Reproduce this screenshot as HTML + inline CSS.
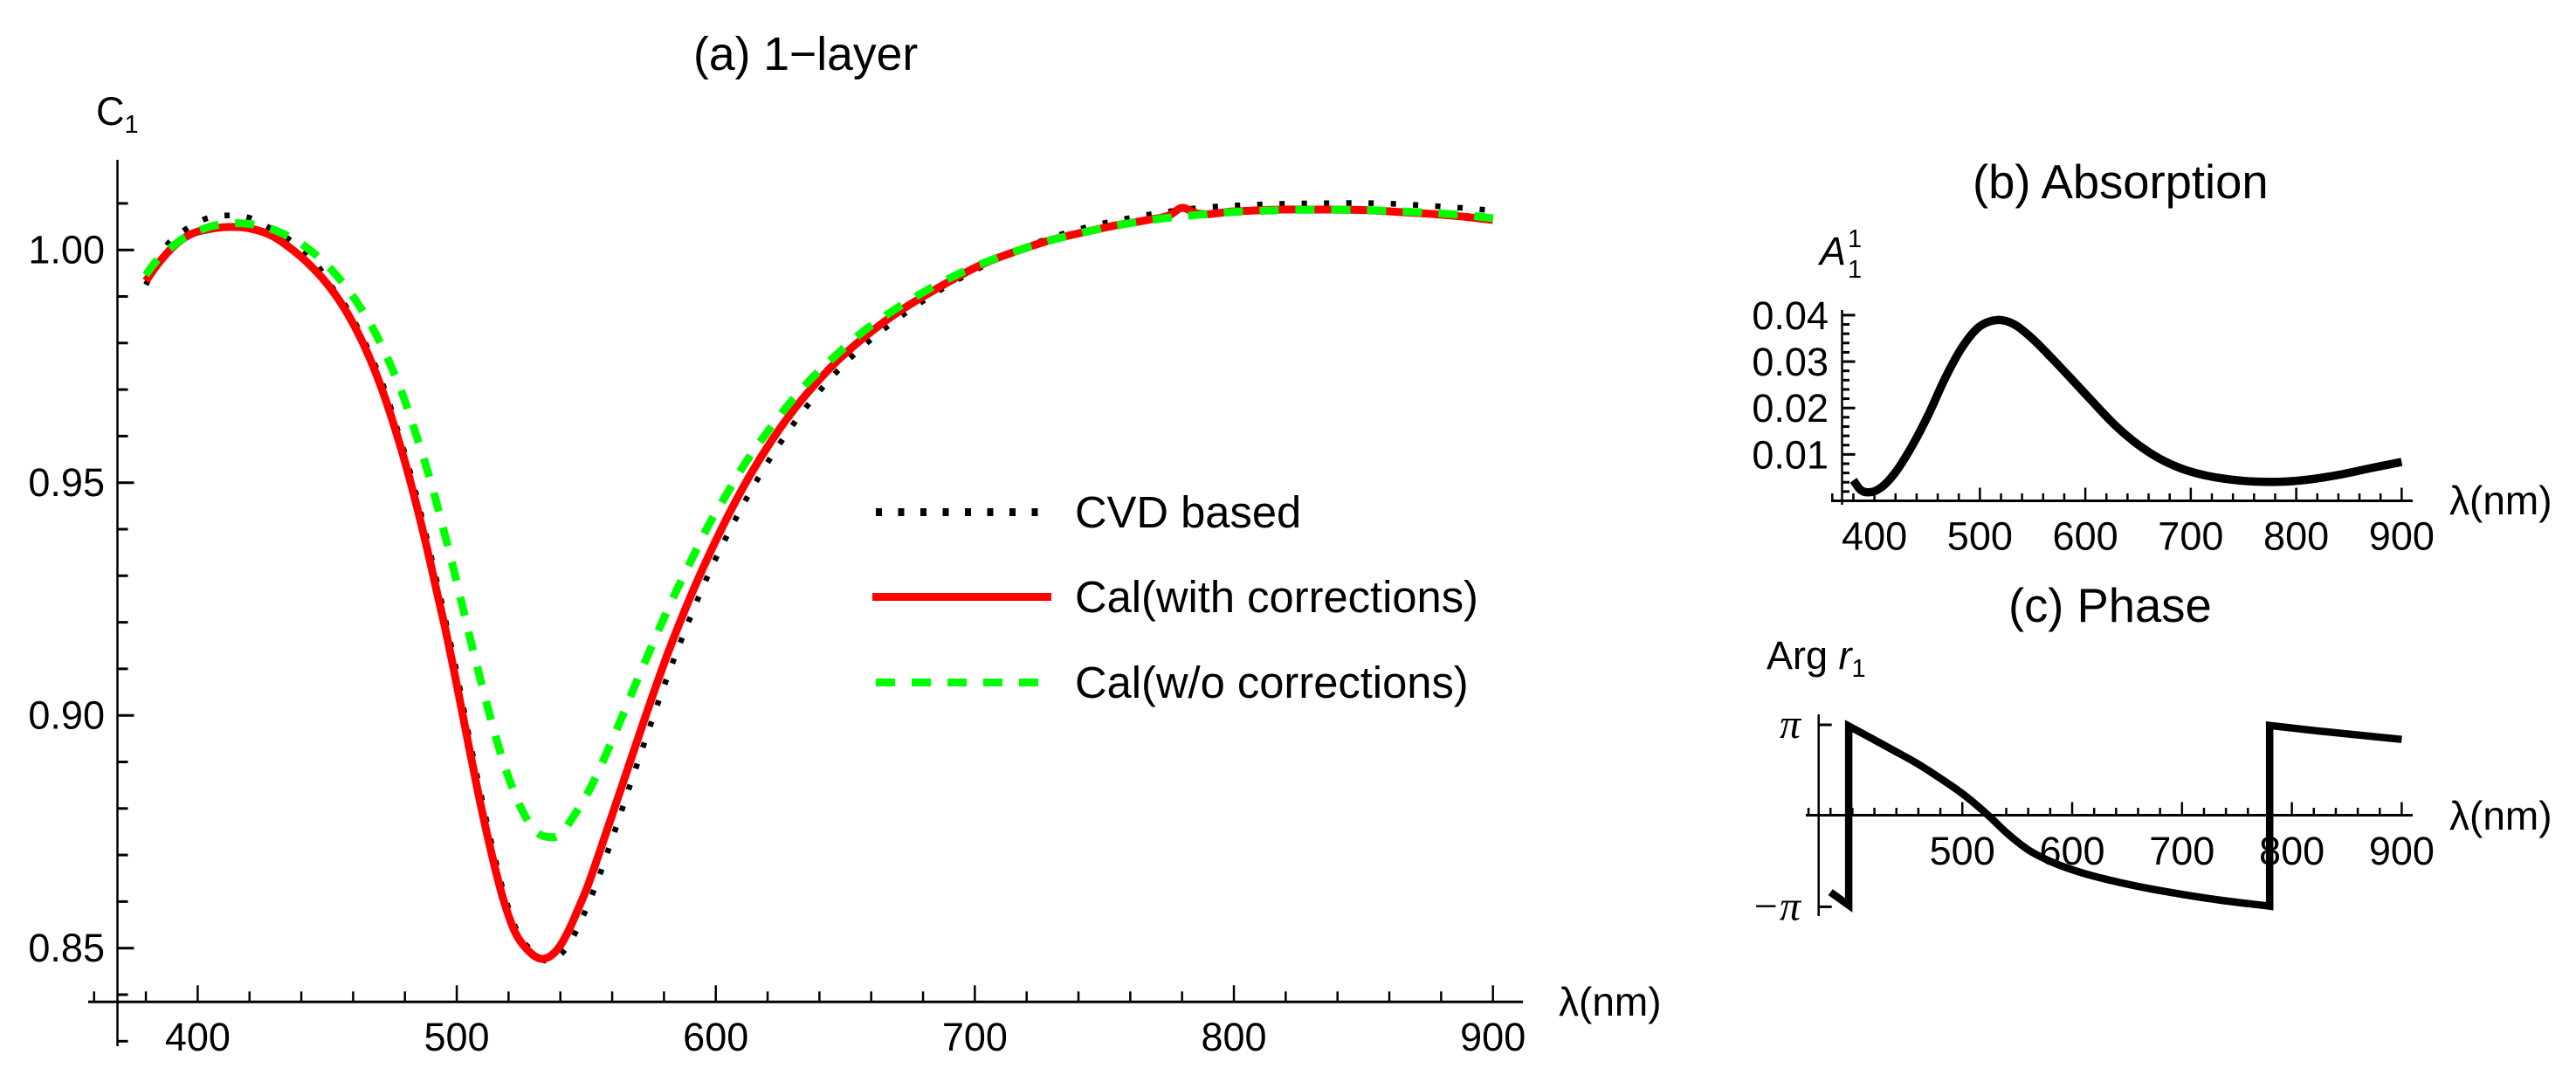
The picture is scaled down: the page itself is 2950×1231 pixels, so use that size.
<!DOCTYPE html>
<html lang="en">
<head>
<meta charset="utf-8">
<title>1-layer spectrum, absorption and phase</title>
<style>
html,body{margin:0;padding:0;background:#fff;}
body{width:2950px;height:1231px;overflow:hidden;position:relative;}
svg{position:absolute;left:0;top:0;display:block;}
text{font-family:"Liberation Sans",Arial,sans-serif;fill:#000;}
.tick{font-size:45px;}
.axt{font-size:46px;}
.title{font-size:54.4px;}
.title-a{font-size:53.5px;}
.leg{font-size:50.7px;}
.sub{font-size:29px;}
.ital{font-style:italic;}
.pi{font-family:"Liberation Serif",serif;font-style:italic;font-size:48px;}
</style>
</head>
<body>
<svg id="fig" xmlns="http://www.w3.org/2000/svg" width="2950" height="1231" viewBox="0 0 2950 1231">
  <rect width="2950" height="1231" fill="#fff"/>
  <g id="panelA">
    <text class="title-a" x="794" y="80">(a) 1−layer</text>
    <text class="tick" x="110" y="143">C<tspan class="sub" dy="9">1</tspan></text>
    <text class="axt" x="1785" y="1163">λ(nm)</text>
    <g>
      <g>
        <line x1="1003" x2="1192" y1="586.5" y2="586.5" stroke="#000" stroke-width="9" stroke-dasharray="7 18.5"/>
        <text class="leg" x="1231" y="604">CVD based</text>
      </g>
      <g>
        <line x1="999" x2="1204" y1="683.5" y2="683.5" stroke="#f00" stroke-width="9"/>
        <text class="leg" x="1231" y="701">Cal(with corrections)</text>
      </g>
      <g>
        <line x1="1003" x2="1189" y1="781.5" y2="781.5" stroke="#0f0" stroke-width="9" stroke-dasharray="22 19"/>
        <text class="leg" x="1231" y="799">Cal(w/o corrections)</text>
      </g>
    </g>
  </g>
  <g id="panelB">
    <text class="title" x="2259" y="227">(b) Absorption</text>
    <text class="tick ital" x="2084" y="303">A</text>
    <text class="sub" x="2116" y="283">1</text>
    <text class="sub" x="2116" y="318">1</text>
    <text class="axt" x="2805" y="589">λ(nm)</text>
  </g>
  <g id="panelC">
    <text class="title" x="2300" y="712">(c) Phase</text>
    <text class="tick" x="2023" y="766">Arg <tspan class="ital">r</tspan><tspan class="sub" dy="9">1</tspan></text>
    <text class="axt" x="2805" y="950">λ(nm)</text>
  </g>
</svg>
<script>
// ---- Panel (a) data ----
const cvdLambda = [380,388.3,395,402.6,411,419.5,427.1,434.9,441.7,447.3,451.4,456.2,461.7,467.3,473,477.2,481.3,485.5,489.5,493.1,496.6,499.5,504.7,509.1,513.5,518.9,523.4,528.3,534,538.1,542,546.4,550,553.2,556.2,559,561.8,567.2,572.7,578.3,584.2,590.5,597.2,604.6,612.6,621.4,631.1,641.9,653.8,666.9,681,695.6,710.8,727.1,743.4,760.4,785.8,803,820.2,837.4,854.6,871.8,889,900];
const cvdValues = [0.99253,1.00116,1.0043,1.0066,1.00741,1.00698,1.00492,1.00242,0.99929,0.99585,0.99235,0.98878,0.98334,0.97677,0.9687,0.9612,0.9537,0.94488,0.9355,0.92687,0.91805,0.91055,0.89555,0.88358,0.87232,0.86045,0.85356,0.84976,0.84732,0.84788,0.84981,0.85401,0.85845,0.86283,0.86733,0.87189,0.87645,0.88554,0.89454,0.90366,0.91261,0.92152,0.93037,0.93893,0.94732,0.95557,0.96345,0.9709,0.97777,0.98385,0.9894,0.99428,0.99854,1.0022,1.00492,1.00692,1.00899,1.00961,1.00992,1.01004,1.01004,1.00961,1.00899,1.00848];
const withLambda = [380,384.4,391.1,396.8,404.6,411.3,420.3,429.3,435.9,442.7,449.4,455.1,460.8,466.4,472,476.4,480.4,484.6,488.7,492.2,495.8,498.6,503.9,508.2,512.6,518,522.4,527,533.2,539,543.4,546.9,550.2,553.1,555.9,564.2,572.4,581,590.6,601.2,613.2,627.1,643.7,663.3,686,703.5,717,729.2,742.7,754,767,775.4,779.8,785,800.3,818.5,831.3,850.8,863.7,876.5,889.3,900];
const withValues = [0.99334,0.99679,1.00098,1.00323,1.00448,1.00492,1.0046,1.00285,1.00032,0.99709,0.9931,0.98878,0.98334,0.97677,0.9687,0.9612,0.9537,0.94488,0.9355,0.92687,0.91805,0.91055,0.89555,0.88358,0.87232,0.86045,0.85356,0.84981,0.84769,0.84981,0.85401,0.85845,0.86283,0.86733,0.87189,0.88554,0.89904,0.91261,0.92599,0.93893,0.95158,0.96345,0.97439,0.98385,0.99191,0.99709,0.99991,1.0021,1.00388,1.00523,1.00647,1.00754,1.00904,1.00797,1.00829,1.00867,1.00867,1.00854,1.00816,1.00773,1.00711,1.00642];
const withoutLambda = [380,381.6,391.4,403.5,417.3,430.4,442.4,452.6,461,468.1,474.1,479.3,483.7,487.9,491.7,495.2,498.6,501.8,505,508.3,511.8,515.4,519.5,524.6,530.4,535.4,540.1,544.5,551.6,557.4,562.8,568.1,573.5,578.9,584.6,590.6,596.7,603.5,610.5,618.4,626.7,635.7,645.6,656,667.1,678.7,690.9,703.5,716.4,729.5,742.8,756.5,770.1,783.7,797.2,811,824.9,838.4,852.2,866.2,879.8,893.6,900];
const withoutValues = [0.9946,0.99591,1.00129,1.00478,1.00572,1.00411,1.00036,0.99516,0.98916,0.98265,0.9757,0.96865,0.96133,0.95407,0.9467,0.93925,0.93188,0.92443,0.91692,0.90955,0.90204,0.89473,0.88747,0.88034,0.87514,0.87386,0.87443,0.87784,0.88441,0.89135,0.89835,0.90548,0.91255,0.91955,0.92655,0.93343,0.94032,0.94689,0.95345,0.95976,0.96583,0.97165,0.97696,0.98208,0.98647,0.99047,0.99409,0.99722,0.99985,1.0021,1.00386,1.00542,1.0066,1.00741,1.00805,1.00842,1.00861,1.00861,1.00854,1.00824,1.00786,1.00722,1.00679];
const mainXMajor = [400,500,600,700,800,900];
const mainXLabels = ['400','500','600','700','800','900'];
const mainXMinor = [360,380,420,440,460,480,520,540,560,580,620,640,660,680,720,740,760,780,820,840,860,880];
const mainYMajor = [1.00,0.95,0.90,0.85];
const mainYLabels = ['1.00','0.95','0.90','0.85'];
const mainYMinor = [1.01,0.99,0.98,0.97,0.96,0.94,0.93,0.92,0.91,0.89,0.88,0.87,0.86,0.84,0.83];

// ---- Panel (b) data ----
const absLambda = [380,386.6,395.6,406.2,419.4,435.2,451.1,466.9,482.8,498.6,511.8,521.3,532.9,548.8,567.3,585.8,606.9,628,649.1,670.2,691.4,712.5,738.9,765.3,786.4,812.8,839.2,870.9,900];
const absValues = [0.00442,0.00241,0.00185,0.00285,0.00599,0.01163,0.01853,0.02637,0.03296,0.03735,0.0388,0.03891,0.03797,0.03515,0.03095,0.0265,0.02135,0.01634,0.01226,0.00912,0.00693,0.00555,0.00455,0.00411,0.00411,0.00461,0.00555,0.00706,0.00837];
const absXMajor = [400,500,600,700,800,900];
const absXLabels = ['400','500','600','700','800','900'];
const absXMinor = [360,380,420,440,460,480,520,540,560,580,620,640,660,680,720,740,760,780,820,840,860,880];
const absYMajor = [0.04,0.03,0.02,0.01];
const absYLabels = ['0.04','0.03','0.02','0.01'];
const absYMinor = [0.038,0.036,0.034,0.032,0.028,0.026,0.024,0.022,0.018,0.016,0.014,0.012,0.008,0.006,0.004,0.002];

// ---- Panel (c) data (values in units of pi) ----
const phaseLambda = [380,396.6,396.6,415.8,436.1,458.9,479.2,502,523.3,541.6,560.3,580.6,608.5,638.9,669.3,699.7,730.2,779.8,779.8,821.4,900];
const phaseValues = [-0.839,-0.983,0.987,0.862,0.728,0.575,0.418,0.226,0.008,-0.2,-0.376,-0.503,-0.625,-0.72,-0.798,-0.862,-0.919,-0.993,0.993,0.936,0.84];
const phaseXMajor = [500,600,700,800,900];
const phaseXLabels = ['500','600','700','800','900'];
const phaseXMinor = [360,380,400,420,440,460,480,520,540,560,580,620,640,660,680,720,740,760,780,820,840,860,880];
const phaseYMajor = [1,-1];
const phaseYLabels = ['π','−π'];

const NS = 'http://www.w3.org/2000/svg';

function smoothPath(xs, ys, sx, sy) {
  const px = xs.map(sx), py = ys.map(sy), n = px.length;
  const jump = i => i < 0 || i >= n - 1 || Math.abs(px[i + 1] - px[i]) < 0.5;
  const slope = i => (py[i + 1] - py[i]) / (px[i + 1] - px[i]);
  const tangent = px.map((_, i) => {
    const noPrev = jump(i - 1), noNext = jump(i);
    if (noPrev && noNext) return 0;
    if (noPrev) return slope(i);
    if (noNext) return slope(i - 1);
    const h0 = px[i] - px[i - 1], h1 = px[i + 1] - px[i];
    return (h1 * slope(i - 1) + h0 * slope(i)) / (h0 + h1);
  });
  let d = 'M' + px[0].toFixed(2) + ' ' + py[0].toFixed(2);
  for (let i = 0; i < n - 1; i++) {
    if (jump(i)) {
      d += 'L' + px[i + 1].toFixed(2) + ' ' + py[i + 1].toFixed(2);
      continue;
    }
    const h = (px[i + 1] - px[i]) / 3;
    d += 'C' + (px[i] + h).toFixed(2) + ' ' + (py[i] + tangent[i] * h).toFixed(2) + ' ' +
         (px[i + 1] - h).toFixed(2) + ' ' + (py[i + 1] - tangent[i + 1] * h).toFixed(2) + ' ' +
         px[i + 1].toFixed(2) + ' ' + py[i + 1].toFixed(2);
  }
  return d;
}

function drawCurve(parent, name, xs, ys, sx, sy, color, width, dash, join) {
  const el = document.createElementNS(NS, 'path');
  
  
  el.setAttribute('d', smoothPath(xs, ys, sx, sy));
  el.setAttribute('fill', 'none');
  el.setAttribute('stroke', color);
  el.setAttribute('stroke-width', width);
  el.setAttribute('stroke-linejoin', join);
  el.setAttribute('stroke-miterlimit', '10');
  if (dash) el.setAttribute('stroke-dasharray', dash);
  parent.appendChild(el);
}

function drawLine(parent, name, x1, y1, x2, y2, width) {
  const el = document.createElementNS(NS, 'line');
  
  
  el.setAttribute('x1', x1);
  el.setAttribute('y1', y1);
  el.setAttribute('x2', x2);
  el.setAttribute('y2', y2);
  el.setAttribute('stroke', '#000');
  el.setAttribute('stroke-width', width);
  parent.appendChild(el);
}

function drawLabel(parent, name, str, x, y, anchor, cls) {
  const el = document.createElementNS(NS, 'text');
  
  
  el.setAttribute('x', x);
  el.setAttribute('y', y);
  el.setAttribute('text-anchor', anchor);
  el.setAttribute('class', cls);
  el.textContent = str;
  parent.appendChild(el);
}

function drawAxes(parent, prefix, o) {
  drawLine(parent, prefix + '-y-axis', o.axisX, o.yTop, o.axisX, o.yBottom, o.yw);
  drawLine(parent, prefix + '-x-axis', o.xLeft, o.axisY, o.xRight, o.axisY, o.xw);
  o.xMajor.forEach((v, i) => {
    drawLine(parent, prefix + '-x-tick-major', o.sx(v), o.axisY, o.sx(v), o.axisY - o.major, 2.5);
    drawLabel(parent, prefix + '-x-tick-label', o.xLabels[i], o.sx(v), o.xLabelY, 'middle', 'tick');
  });
  o.xMinor.forEach(v => {
    drawLine(parent, prefix + '-x-tick-minor', o.sx(v), o.axisY, o.sx(v), o.axisY - o.minor, 2.5);
  });
  o.yMajor.forEach((v, i) => {
    drawLine(parent, prefix + '-y-tick-major', o.axisX, o.sy(v), o.axisX + o.major, o.sy(v), 3);
    drawLabel(parent, prefix + '-y-tick-label', o.yLabels[i], o.yLabelX, o.sy(v) + o.yLabelDy, 'end', o.yLabelClass);
  });
  o.yMinor.forEach(v => {
    drawLine(parent, prefix + '-y-tick-minor', o.axisX, o.sy(v), o.axisX + o.minor, o.sy(v), 3);
  });
}

// Panel (a)
const ax = v => 226.4 + (v - 400) * 2.9666;
const ay = v => 286.2 + (1 - v) * 5330;
const panelA = document.getElementById('panelA');
drawAxes(panelA, 'panel-a', {
  sx: ax, sy: ay, axisX: 134.5, axisY: 1147.3, xLeft: 101, xRight: 1744, yTop: 183, yBottom: 1198,
  xw: 3, yw: 2.5, major: 19, minor: 12, xMajor: mainXMajor, xLabels: mainXLabels, xMinor: mainXMinor,
  xLabelY: 1203, yMajor: mainYMajor, yLabels: mainYLabels, yMinor: mainYMinor,
  yLabelX: 120, yLabelDy: 15.5, yLabelClass: 'tick'
});
drawCurve(panelA, 'series-cvd-based', cvdLambda, cvdValues, ax, ay, '#000', 6.5, '6 19.5', 'round');
drawCurve(panelA, 'series-with-corrections', withLambda, withValues, ax, ay, '#f00', 9, '', 'round');
drawCurve(panelA, 'series-without-corrections', withoutLambda, withoutValues, ax, ay, '#0f0', 9, '22 19', 'round');

// Panel (b)
const bx = v => 2146.6 + (v - 400) * 1.2075;
const by = v => 573.5 - v * 5315;
const panelB = document.getElementById('panelB');
drawAxes(panelB, 'panel-b', {
  sx: bx, sy: by, axisX: 2109.5, axisY: 573.5, xLeft: 2097, xRight: 2763, yTop: 355, yBottom: 578,
  xw: 3, yw: 2.5, major: 15, minor: 8.5, xMajor: absXMajor, xLabels: absXLabels, xMinor: absXMinor,
  xLabelY: 629.5, yMajor: absYMajor, yLabels: absYLabels, yMinor: absYMinor,
  yLabelX: 2094, yLabelDy: 16, yLabelClass: 'tick'
});
drawCurve(panelB, 'series-absorption', absLambda, absValues, bx, by, '#000', 9.5, '', 'round');

// Panel (c)
const cx = v => 2247.2 + (v - 500) * 1.258;
const cy = v => 934.2 - v * 104.2;
const panelC = document.getElementById('panelC');
drawAxes(panelC, 'panel-c', {
  sx: cx, sy: cy, axisX: 2082.7, axisY: 933.5, xLeft: 2068, xRight: 2763, yTop: 818, yBottom: 1049,
  xw: 3, yw: 2.5, major: 15, minor: 8.5, xMajor: phaseXMajor, xLabels: phaseXLabels, xMinor: phaseXMinor,
  xLabelY: 990, yMajor: phaseYMajor, yLabels: phaseYLabels, yMinor: [],
  yLabelX: 2062, yLabelDy: 15, yLabelClass: 'pi'
});
drawCurve(panelC, 'series-phase', phaseLambda, phaseValues, cx, cy, '#000', 8.5, '', 'miter');
</script>
</body>
</html>
